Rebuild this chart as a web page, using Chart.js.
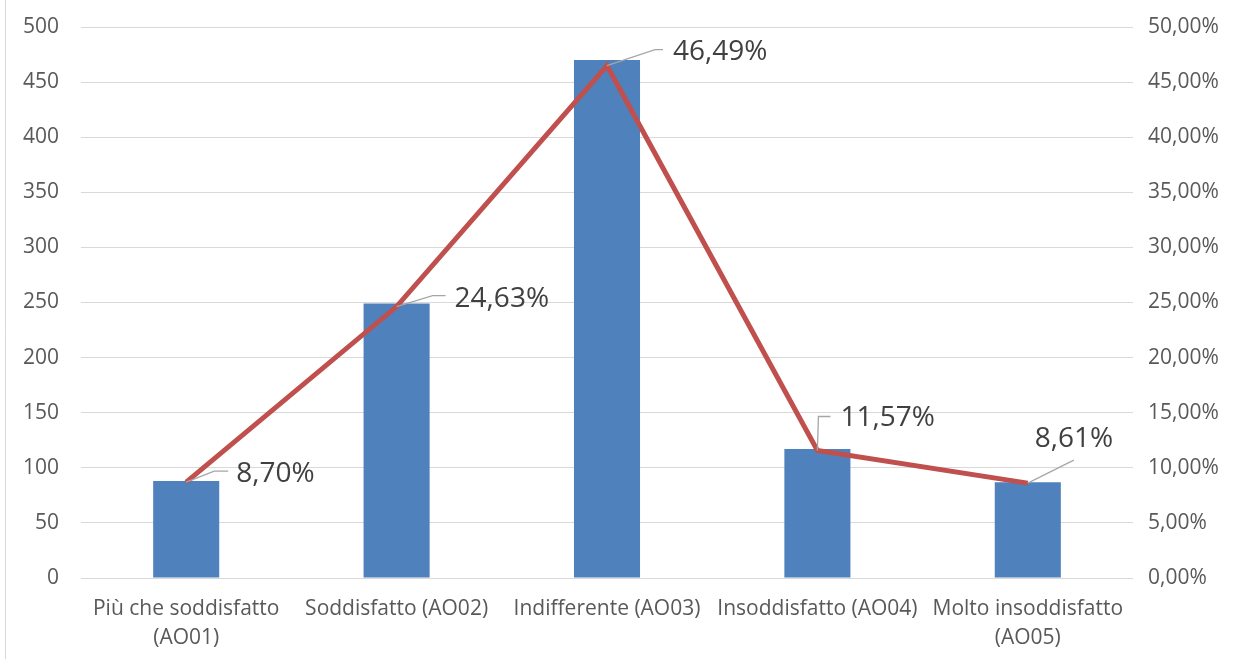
<!DOCTYPE html>
<html>
<head>
<meta charset="utf-8">
<title>Soddisfazione</title>
<script src="https://cdn.jsdelivr.net/npm/chart.js@4"></script>
<style>
  html, body { margin: 0; padding: 0; background: #ffffff; }
  #wrap { width: 1234px; height: 659px; position: relative; }
</style>
</head>
<body>
<div id="wrap"><canvas id="chart" width="1234" height="659"></canvas></div>
<script>
// Categorie dell'indagine
const categories = [
  ["Più che soddisfatto", "(AO01)"],
  "Soddisfatto (AO02)",
  "Indifferente (AO03)",
  "Insoddisfatto (AO04)",
  ["Molto insoddisfatto", "(AO05)"]
];
// Numero di risposte per categoria
const counts = [88, 249, 470, 117, 87];
// Percentuale sul totale
const percents = [8.70, 24.63, 46.49, 11.57, 8.61];
// Tacche degli assi
const countTicks = [0, 50, 100, 150, 200, 250, 300, 350, 400, 450, 500];
const percentTicks = [0, 5, 10, 15, 20, 25, 30, 35, 40, 45, 50];

// Placement of each percentage label and its leader line, relative to the point (px)
const labelLayout = [
  { text: [50, 0],   leader: [[28, -11], [42, -11]] },
  { text: [58, 0],   leader: [[36, -11], [49, -11]] },
  { text: [66, -6],  leader: [[48, -16], [56, -16]] },
  { text: [23, -24], leader: [[1, -34], [13, -34]] },
  { text: [7, -36],  leader: [[46, -23], [46, -23]] }
];

const fmtPct = v => v.toFixed(2).replace('.', ',') + '%';

// Fixed axis box sizes; label overflow must not push the plot area around
const fixWidth = w => s => { s.width = w; s.paddingTop = 0; s.paddingBottom = 0; };

const frame = {
  id: 'frame',
  beforeDraw(chart) {
    const ctx = chart.ctx;
    ctx.save();
    ctx.fillStyle = '#ffffff';
    ctx.fillRect(0, 0, chart.width, chart.height);
    ctx.strokeStyle = '#d9d9d9';
    ctx.lineWidth = 1;
    ctx.beginPath();
    ctx.moveTo(5.5, 0);
    ctx.lineTo(5.5, chart.height);
    ctx.stroke();
    ctx.restore();
  }
};

const pctLabels = {
  id: 'pctLabels',
  afterDatasetsDraw(chart) {
    const meta = chart.getDatasetMeta(1);
    const ctx = chart.ctx;
    ctx.save();
    meta.data.forEach((pt, i) => {
      const lay = labelLayout[i];
      const x = pt.x, y = pt.y;
      ctx.strokeStyle = '#a6a6a6';
      ctx.lineWidth = 1.3;
      ctx.beginPath();
      ctx.moveTo(x, y);
      ctx.lineTo(x + lay.leader[0][0], y + lay.leader[0][1]);
      ctx.lineTo(x + lay.leader[1][0], y + lay.leader[1][1]);
      ctx.stroke();
      ctx.fillStyle = '#404040';
      ctx.font = '28px "Open Sans"';
      ctx.textAlign = 'left';
      ctx.textBaseline = 'alphabetic';
      ctx.fillText(fmtPct(percents[i]), x + lay.text[0], y + lay.text[1]);
    });
    ctx.restore();
  }
};

new Chart(document.getElementById('chart'), {
  data: {
    labels: categories,
    datasets: [
      {
        type: 'bar',
        data: counts,
        backgroundColor: '#4f81bd',
        yAxisID: 'y',
        categoryPercentage: 1,
        barPercentage: 0.314,
        order: 1
      },
      {
        type: 'line',
        data: percents,
        borderColor: '#c0504d',
        borderWidth: 5,
        pointRadius: 0,
        tension: 0,
        yAxisID: 'y1',
        order: 0
      }
    ]
  },
  options: {
    responsive: false,
    animation: false,
    layout: { padding: { top: 27, left: 6, right: 0, bottom: 0 } },
    plugins: {
      legend: { display: false },
      tooltip: { enabled: false }
    },
    scales: {
      x: {
        offset: true,
        grid: { display: false, drawTicks: false },
        border: { display: false },
        ticks: {
          color: '#595959',
          font: { family: '"Open Sans"', size: 21, lineHeight: 1.38 },
          padding: 17,
          maxRotation: 0,
          autoSkip: false
        },
        afterFit(s) { s.height = 81; s.paddingLeft = 0; s.paddingRight = 0; }
      },
      y: {
        position: 'left',
        min: 0,
        max: 500,
        afterBuildTicks(s) { s.ticks = countTicks.map(v => ({ value: v })); },
        grid: { color: '#d9d9d9', lineWidth: 1, drawTicks: false },
        border: { display: false },
        ticks: {
          color: '#595959',
          font: { family: '"Open Sans"', size: 21 },
          padding: 22
        },
        afterFit: fixWidth(75)
      },
      y1: {
        position: 'right',
        min: 0,
        max: 50,
        afterBuildTicks(s) { s.ticks = percentTicks.map(v => ({ value: v })); },
        grid: { display: false, drawTicks: false },
        border: { display: false },
        ticks: {
          color: '#595959',
          font: { family: '"Open Sans"', size: 21 },
          padding: 15,
          callback: v => fmtPct(v)
        },
        afterFit: fixWidth(101)
      }
    }
  },
  plugins: [frame, pctLabels]
});
</script>
</body>
</html>
